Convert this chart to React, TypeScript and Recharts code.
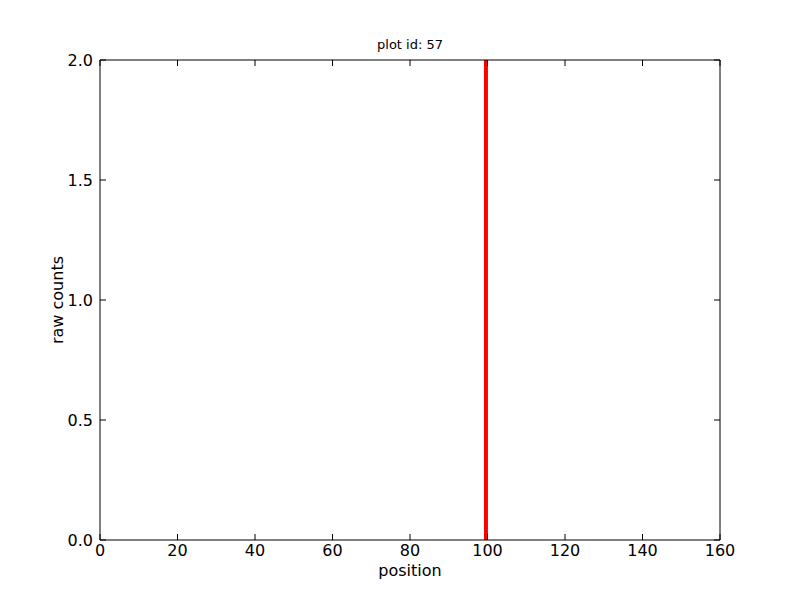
import { Label, Line, LineChart, XAxis, YAxis } from "recharts";

// one spike at position ~100, spanning the whole y range
const positions = [99.6, 99.6];
const counts = [0, 2];
const xTicks = [0, 20, 40, 60, 80, 100, 120, 140, 160];
const yTicks = [0, 0.5, 1, 1.5, 2];

const data = positions.map((p, i) => ({ position: p, count: counts[i] }));

const FONT = "DejaVu Sans, sans-serif";
const TICK = 6;

function BottomTick(props: any) {
  const { x, y, payload } = props;
  return (
    <g>
      <line x1={x} y1={y} x2={x} y2={y - TICK} stroke="#000" />
      <text x={x} y={y + 10} textAnchor="middle" dy="0.35em" fontSize={16} fontFamily={FONT} fill="#000">
        {payload.value}
      </text>
    </g>
  );
}

function TopTick(props: any) {
  const { x, y } = props;
  return <line x1={x} y1={y} x2={x} y2={y + TICK} stroke="#000" />;
}

function LeftTick(props: any) {
  const { x, y, payload } = props;
  return (
    <g>
      <line x1={x} y1={y} x2={x + TICK} y2={y} stroke="#000" />
      <text x={x - 7} y={y} textAnchor="end" dy="0.35em" fontSize={16} fontFamily={FONT} fill="#000">
        {Number(payload.value).toFixed(1)}
      </text>
    </g>
  );
}

function RightTick(props: any) {
  const { x, y } = props;
  return <line x1={x} y1={y} x2={x - TICK} y2={y} stroke="#000" />;
}

export default function App() {
  return (
    <div style={{ position: "absolute", left: 0, top: 0, width: 800, height: 600, background: "#fff" }}>
      <div
        style={{
          position: "absolute",
          left: 100,
          width: 620,
          top: 37,
          textAlign: "center",
          fontFamily: FONT,
          fontSize: 13,
          color: "#000",
        }}
      >
        plot id: 57
      </div>
      <LineChart width={800} height={600} data={data} margin={{ top: 0, right: 0, bottom: 0, left: 0 }}>
        <XAxis
          dataKey="position"
          type="number"
          domain={[0, 160]}
          ticks={xTicks}
          height={60}
          tickSize={0}
          tickMargin={0}
          tick={<BottomTick />}
          axisLine={{ stroke: "#000" }}
          allowDataOverflow
        >
          <Label value="position" position="insideTop" offset={25} fontSize={16} fontFamily={FONT} fill="#000" />
        </XAxis>
        <XAxis
          xAxisId="top"
          orientation="top"
          dataKey="position"
          type="number"
          domain={[0, 160]}
          ticks={xTicks}
          height={60}
          tickSize={0}
          tickMargin={0}
          tick={<TopTick />}
          axisLine={{ stroke: "#000" }}
          allowDataOverflow
        />
        <YAxis
          dataKey="count"
          type="number"
          domain={[0, 2]}
          ticks={yTicks}
          width={100}
          tickSize={0}
          tickMargin={0}
          tick={<LeftTick />}
          axisLine={{ stroke: "#000" }}
          allowDataOverflow
        >
          <Label
            value="raw counts"
            angle={-90}
            position="insideLeft"
            offset={57}
            style={{ textAnchor: "middle" }}
            fontSize={16}
            fontFamily={FONT}
            fill="#000"
          />
        </YAxis>
        <YAxis
          yAxisId="right"
          orientation="right"
          dataKey="count"
          type="number"
          domain={[0, 2]}
          ticks={yTicks}
          width={80}
          tickSize={0}
          tickMargin={0}
          tick={<RightTick />}
          axisLine={{ stroke: "#000" }}
          allowDataOverflow
        />
        <Line
          dataKey="count"
          stroke="#ff0000"
          strokeWidth={4}
          dot={false}
          activeDot={false}
          isAnimationActive={false}
        />
        <Line
          dataKey="count"
          xAxisId="top"
          yAxisId="right"
          stroke="none"
          dot={false}
          activeDot={false}
          isAnimationActive={false}
        />
      </LineChart>
    </div>
  );
}
